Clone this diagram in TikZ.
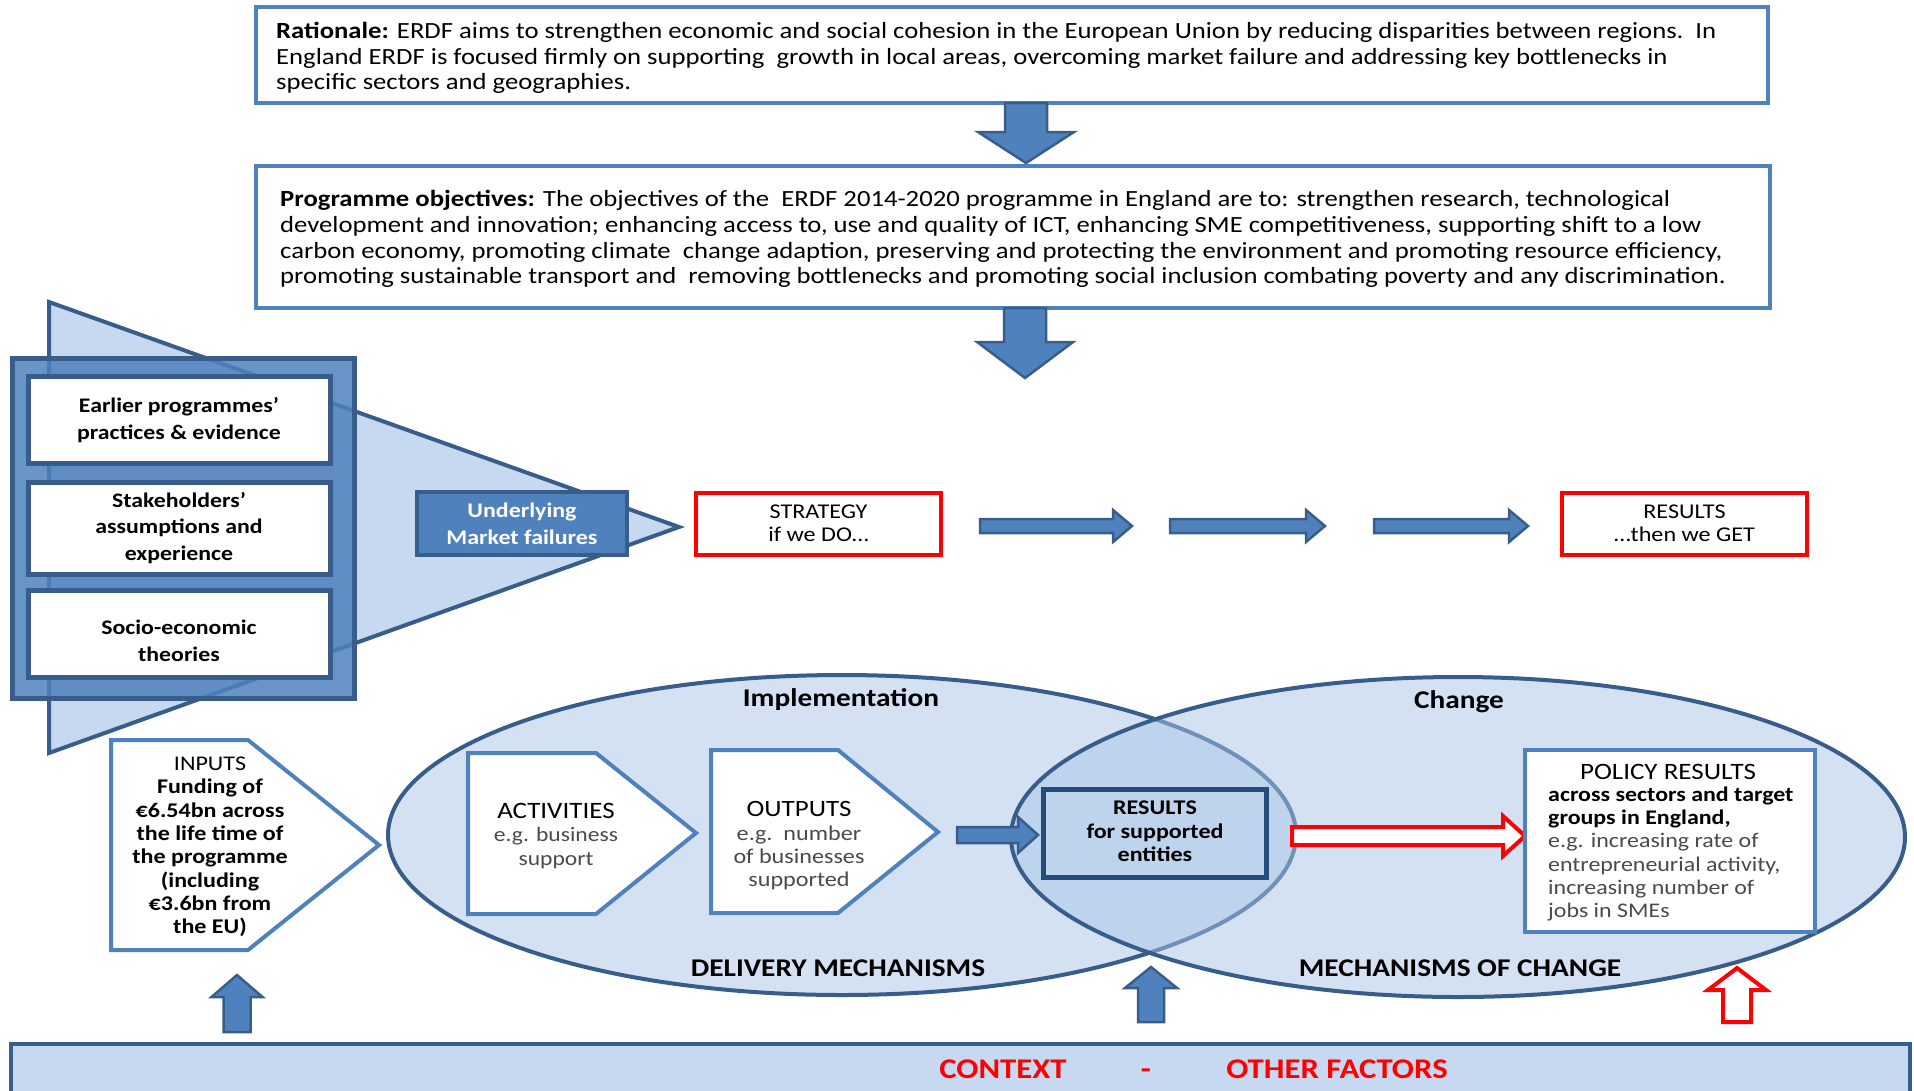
\documentclass[tikz,border=0pt]{standalone}
\usepackage{fontspec}
\setmainfont{Carlito}[FakeStretch=1.15]
\usetikzlibrary{calc,shapes.geometric}
\definecolor{bmain}{HTML}{4F81BD}
\definecolor{bdark}{HTML}{385D8A}
\definecolor{bdeep}{HTML}{254A7C}
\definecolor{blight}{HTML}{C6D9F1}
\definecolor{efill}{HTML}{A9C4E6}
\definecolor{gtext}{HTML}{4A4A4A}
\definecolor{rred}{HTML}{FF0000}
\newcommand{\fsz}[2]{\fontsize{#1}{#2}\selectfont}
% vertical block arrow: style, y-start, y-head, y-tip, centre x, shaft half, head half
\newcommand{\blockV}[7]{\draw[#1] ({#5-#6},#2) -- ({#5-#6},#3) -- ({#5-#7},#3) -- (#5,#4) -- ({#5+#7},#3) -- ({#5+#6},#3) -- ({#5+#6},#2) -- cycle;}
% horizontal block arrow: style, x-start, x-head, x-tip, centre y, shaft half, head half
\newcommand{\blockH}[7]{\draw[#1] (#2,{#5-#6}) -- (#3,{#5-#6}) -- (#3,{#5-#7}) -- (#4,#5) -- (#3,{#5+#7}) -- (#3,{#5+#6}) -- (#2,{#5+#6}) -- cycle;}
\begin{document}
\begin{tikzpicture}[x=1pt,y=-1pt,
  textbox/.style={draw=bmain, line width=4pt, fill=white, inner sep=0pt},
  bigtext/.style={anchor=west, inner sep=0pt, align=left, font=\fsz{23.2}{25.7}},
  redbox/.style={draw=rred, line width=4pt, fill=white, minimum width=245pt, minimum height=62pt, align=center, inner sep=0pt, font=\fsz{21}{22.5}},
  whitebox/.style={draw=bdark, line width=5pt, fill=white, minimum width=302pt, inner sep=0pt},
  wtext/.style={align=center, inner sep=0pt, font=\bfseries\fsz{20.7}{26.5}},
  bluearrow/.style={fill=bmain, draw=bdark, line width=2.5pt, line join=miter},
  redarrow/.style={fill=white, draw=rred, line width=4pt, line join=miter},
  pent/.style={draw=bmain, line width=4pt, fill=white, line join=miter},
  ell/.style={ellipse, fill=efill, fill opacity=0.5, draw=bdark, draw opacity=1, line width=4pt, inner sep=0pt},
  lbl/.style={font=\bfseries\fsz{25.5}{28}, inner sep=0pt},
  ptext/.style={align=center, inner sep=0pt, font=\fsz{21}{23.3}},
  ctxt/.style={text=rred, font=\bfseries\fsz{28.5}{30}, inner sep=0pt, anchor=base},
]
\useasboundingbox (0,0) rectangle (1914,1090);
\clip (0,0) rectangle (1914,1090);

% ---------- top boxes ----------
\node[textbox, minimum width=1512pt, minimum height=96pt] (rat) at (1012,55) {};
\node[bigtext] (ratt) at (276,58) {\textbf{Rationale:} ERDF aims to strengthen economic and social cohesion in the European Union by reducing disparities between regions.\ \ In\\
  England ERDF is focused firmly on supporting\ \ growth in local areas, overcoming market failure and addressing key bottlenecks in\\
  specific sectors and geographies.};
\node[textbox, minimum width=1514pt, minimum height=142pt] (obj) at (1013,237) {};
\node[bigtext] (objt) at (280,239) {\textbf{Programme objectives:} The objectives of the\ \ ERDF 2014-2020 programme in England are to: strengthen research, technological\\
  development and innovation; enhancing access to, use and quality of ICT, enhancing SME competitiveness, supporting shift to a low\\
  carbon economy, promoting climate\ \ change adaption, preserving and protecting the environment and promoting resource efficiency,\\
  promoting sustainable transport and\ \ removing bottlenecks and promoting social inclusion combating poverty and any discrimination.};

\blockV{bluearrow}{103}{132}{163}{1026}{21}{48}
\blockV{bluearrow}{308}{342}{378}{1025}{21}{48}

% ---------- left funnel ----------
\draw[fill=blight, draw=bdark, line width=4pt, line join=miter] (49,302) -- (679,527) -- (49,753) -- cycle;
\node[fill=bmain, fill opacity=0.85, draw=bdark, draw opacity=1, line width=5pt, minimum width=342pt, minimum height=340pt, inner sep=0pt] (src) at (183,528) {};
\node[whitebox, minimum height=87pt] (b1) at (179,419.5) {};
\node[whitebox, minimum height=92pt] (b2) at (179,528) {};
\node[whitebox, minimum height=87pt] (b3) at (179,633.5) {};
\node[wtext] (t1) at (179,420) {Earlier programmes’\\practices \& evidence};
\node[wtext] (t2) at (179,528) {Stakeholders’\\assumptions and\\experience};
\node[wtext] (t3) at (179,641) {Socio-economic\\theories};
\node[fill=bmain, draw=bdark, line width=4pt, minimum width=210pt, minimum height=63pt, inner sep=0pt, align=center, text=white, font=\bfseries\fsz{20.8}{27}] (mf) at (522,523.5) {Underlying\\Market failures};

% ---------- strategy row ----------
\node[redbox] (strat) at (818.5,523.5) {STRATEGY\\if we DO…};
\node[redbox] (res) at (1684.5,523.5) {RESULTS\\…then we GET};
\blockH{bluearrow}{980}{1113}{1132}{526}{7}{16}
\blockH{bluearrow}{1170}{1306}{1325}{526}{7}{16}
\blockH{bluearrow}{1374}{1509}{1528}{526}{7}{16}

% ---------- ellipses ----------
\node[ell, minimum width=908pt, minimum height=320pt] (impl) at (842,835) {};
\node[ell, minimum width=894pt, minimum height=320pt] (chg) at (1458,837) {};
\node[lbl] (limpl) at (841,700) {Implementation};
\node[lbl] (lchg) at (1459,702) {Change};
\node[lbl] (ldel) at (838,968) {DELIVERY MECHANISMS};
\node[lbl] (lmoc) at (1460,968) {MECHANISMS OF CHANGE};

% ---------- pentagons ----------
\draw[pent] (111,740) -- (248,740) -- (379,845) -- (248,950) -- (111,950) -- cycle;
\node[ptext, font=\bfseries\fsz{20.9}{23.3}] (inp) at (210,847) {\textmd{INPUTS}\\Funding of\\€6.54bn across\\the life time of\\the programme\\(including\\€3.6bn from\\the EU)};
\draw[pent] (468,753) -- (596,753) -- (696,833) -- (596,914) -- (468,914) -- cycle;
\node[ptext, font=\fsz{20.5}{23.6}] (act) at (556,836) {\fsz{23.5}{23.6}ACTIVITIES\\\textcolor{gtext}{e.g. business}\\\textcolor{gtext}{support}};
\draw[pent] (711,750) -- (838,750) -- (938,832) -- (838,913) -- (711,913) -- cycle;
\node[ptext] (out) at (799,846) {\fsz{23.4}{23.5}OUTPUTS\\\textcolor{gtext}{e.g.\ \ number}\\\textcolor{gtext}{of businesses}\\\textcolor{gtext}{supported}};

\blockH{bluearrow}{957}{1018}{1038}{835}{8}{18}
\node[draw=bdeep, line width=5pt, minimum width=223pt, minimum height=88pt, inner sep=0pt] (rsup) at (1155,833) {};
\node[ptext, font=\bfseries\fsz{20.9}{23.5}] (rsupt) at (1155,831.5) {RESULTS\\for supported\\entities};
\blockH{redarrow}{1292}{1503}{1525}{836}{9}{20}

\node[draw=bmain, line width=4pt, fill=white, minimum width=290pt, minimum height=182pt, inner sep=0pt] (pol) at (1670,841) {};
\node[ptext, font=\fsz{23.5}{24}] (polt) at (1668,772) {POLICY RESULTS};
\node[inner sep=0pt, align=left, anchor=west, font=\fsz{20.8}{23.3}] (pold) at (1548,854) {\textbf{across sectors and target}\\\textbf{groups in England,}\\\textcolor{gtext}{e.g. increasing rate of}\\\textcolor{gtext}{entrepreneurial activity,}\\\textcolor{gtext}{increasing number of}\\\textcolor{gtext}{jobs in SMEs}};

% ---------- context ----------
\blockV{bluearrow}{1032}{997}{975}{237}{13.5}{25.5}
\blockV{bluearrow}{1022}{988}{967}{1151}{13}{26}
\blockV{redarrow}{1022}{990}{968}{1737}{14}{29}
\node[draw=bdark, fill=blight, line width=4pt, minimum width=1899pt, minimum height=60pt, inner sep=0pt] (ctx) at (960.5,1074) {};
\node[ctxt] (c1) at (1003,1078) {CONTEXT};
\node[ctxt] (c2) at (1146,1078) {-};
\node[ctxt] (c3) at (1337,1078) {OTHER FACTORS};
\end{tikzpicture}
\end{document}
